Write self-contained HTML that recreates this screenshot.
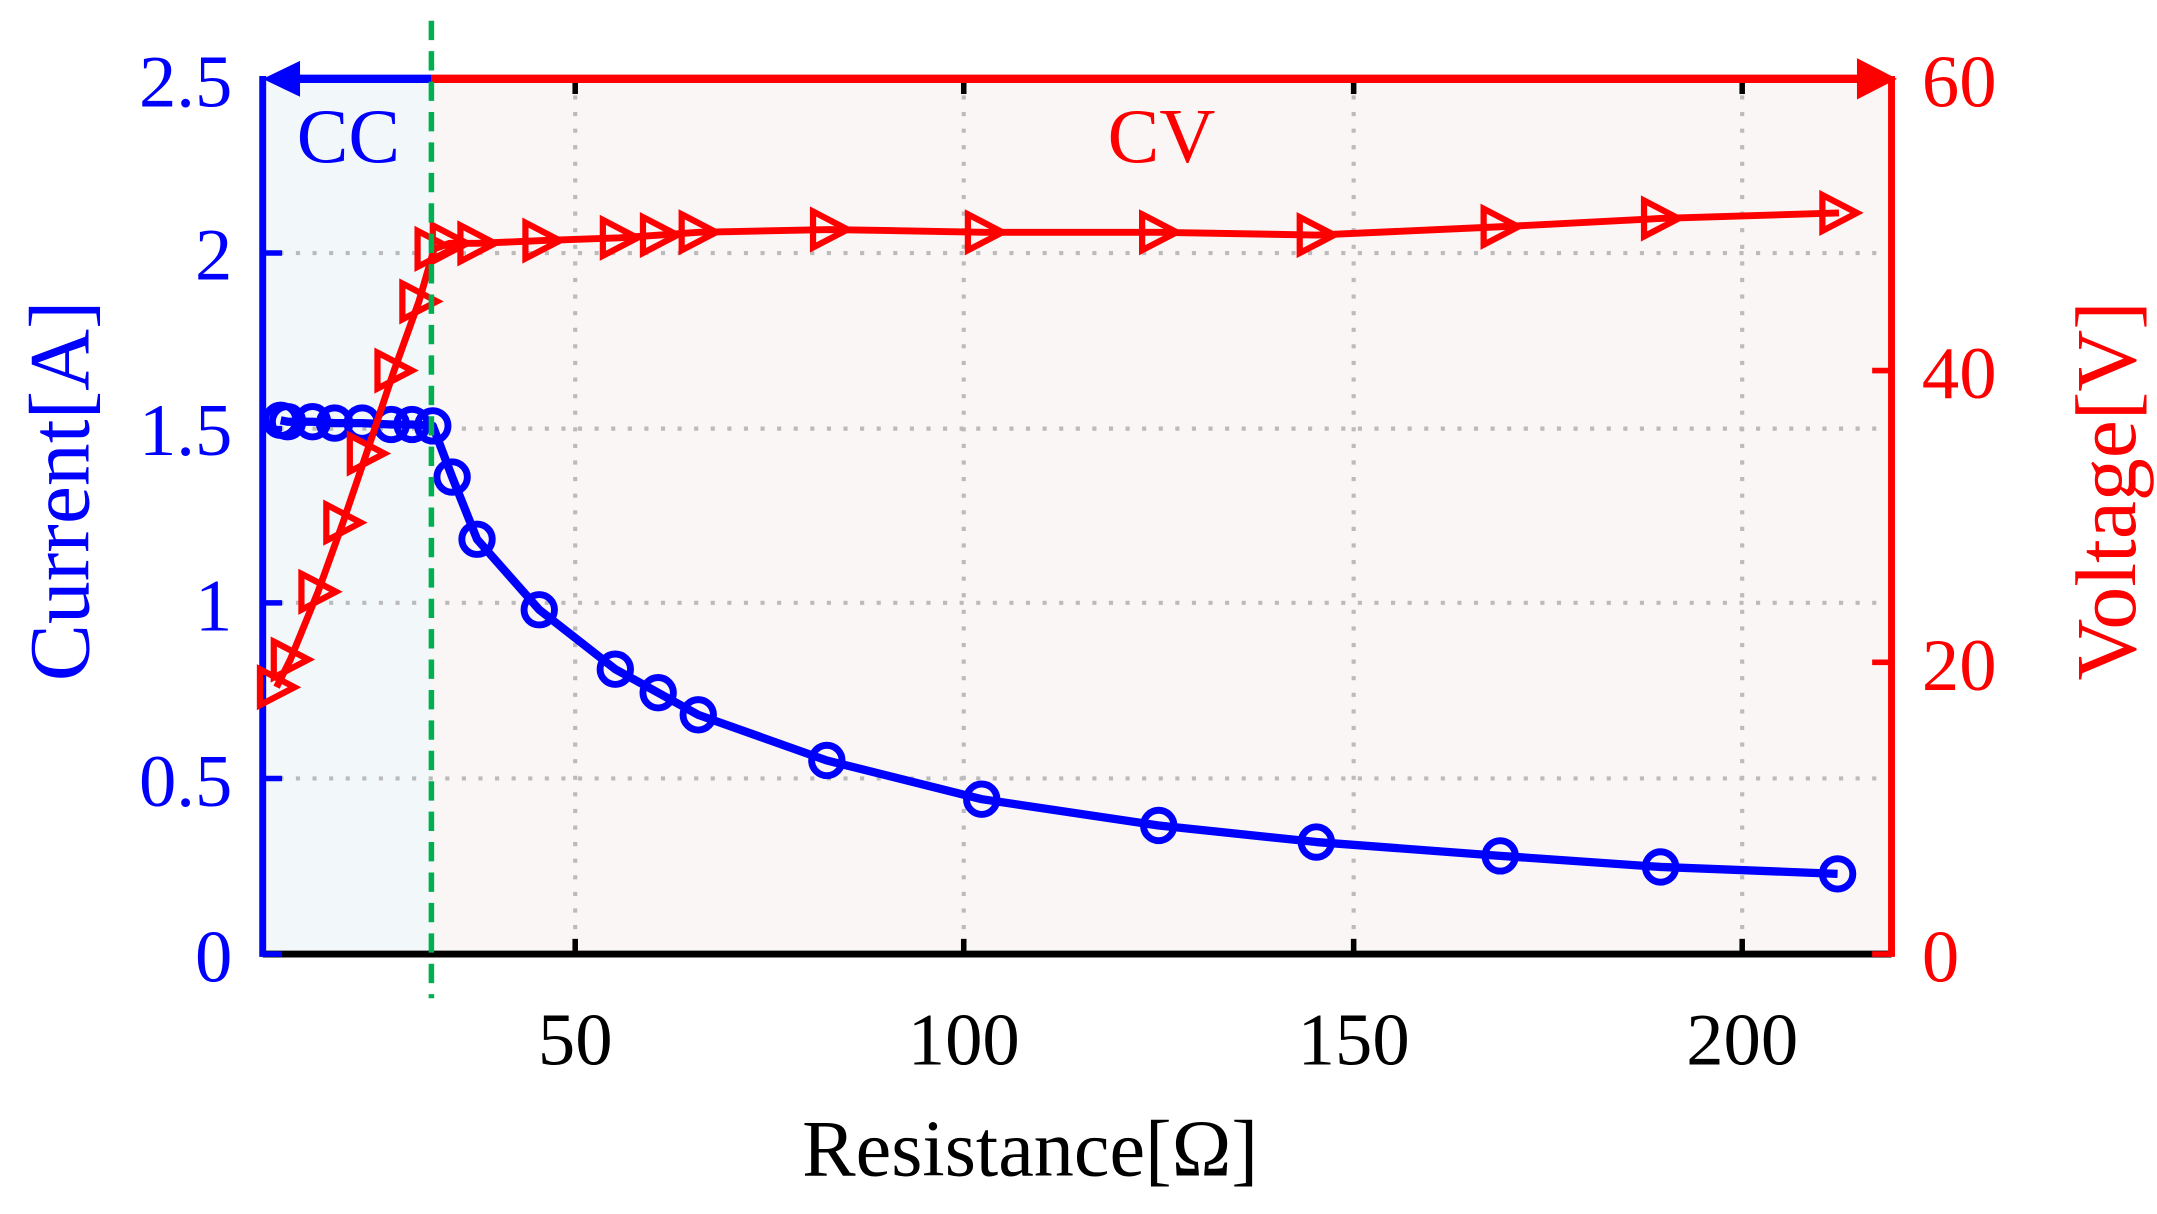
<!DOCTYPE html>
<html><head><meta charset="utf-8"><style>html,body{margin:0;padding:0;background:#fff}svg{display:block}</style></head><body>
<svg width="2157" height="1214" viewBox="0 0 1560 878" xmlns="http://www.w3.org/2000/svg" font-family="Liberation Serif, serif">
<rect x="190" y="57" width="122" height="633" fill="#f2f7fa"/>
<rect x="312" y="57" width="1056" height="633" fill="#fbf6f6"/>
<g stroke="#bbb" stroke-width="3" stroke-dasharray="3,9">
<line x1="416" y1="57" x2="416" y2="690"/><line x1="697" y1="57" x2="697" y2="690"/><line x1="979" y1="57" x2="979" y2="690"/><line x1="1260" y1="57" x2="1260" y2="690"/>
<line x1="190" y1="183" x2="1368" y2="183"/><line x1="190" y1="310" x2="1368" y2="310"/><line x1="190" y1="436" x2="1368" y2="436"/><line x1="190" y1="563" x2="1368" y2="563"/>
</g>
<line x1="190" y1="690" x2="1368" y2="690" stroke="#000" stroke-width="5"/>
<g stroke="#000" stroke-width="4"><line x1="416" y1="690" x2="416" y2="679"/><line x1="697" y1="690" x2="697" y2="679"/><line x1="979" y1="690" x2="979" y2="679"/><line x1="1260" y1="690" x2="1260" y2="679"/><line x1="416" y1="57" x2="416" y2="68"/><line x1="697" y1="57" x2="697" y2="68"/><line x1="979" y1="57" x2="979" y2="68"/><line x1="1260" y1="57" x2="1260" y2="68"/></g>
<line x1="190" y1="55" x2="190" y2="692" stroke="#0000ff" stroke-width="5"/>
<g stroke="#0000ff" stroke-width="4"><line x1="190" y1="183" x2="204" y2="183"/><line x1="190" y1="310" x2="204" y2="310"/><line x1="190" y1="436" x2="204" y2="436"/><line x1="190" y1="563" x2="204" y2="563"/><line x1="190" y1="690" x2="204" y2="690"/></g>
<line x1="1368" y1="55" x2="1368" y2="692" stroke="#ff0000" stroke-width="5"/>
<g stroke="#ff0000" stroke-width="4"><line x1="1354" y1="268" x2="1368" y2="268"/><line x1="1354" y1="479" x2="1368" y2="479"/><line x1="1354" y1="690" x2="1368" y2="690"/></g>
<line x1="200" y1="57" x2="312" y2="57" stroke="#0000ff" stroke-width="6"/>
<polygon points="190,57 217,44 217,70" fill="#0000ff"/>
<line x1="312" y1="57" x2="1350" y2="57" stroke="#ff0000" stroke-width="6"/>
<polygon points="1372,57 1343,42 1343,72" fill="#ff0000"/>
<polyline fill="none" stroke="#0000ff" stroke-width="6" stroke-linejoin="round" points="203,304 208,305 226,305 242,306 262,306 283,307 298,307 313,308 327,345 345,390 390,441 445,484 476,501 505,517 598,550 710,578 838,597 952,609 1085,619 1201,627 1329,632"/>
<g fill="none" stroke="#0000ff" stroke-width="5">
<circle cx="203" cy="304" r="11"/><circle cx="208" cy="305" r="11"/><circle cx="226" cy="305" r="11"/><circle cx="242" cy="306" r="11"/><circle cx="262" cy="306" r="11"/><circle cx="283" cy="307" r="11"/><circle cx="298" cy="307" r="11"/><circle cx="313" cy="308" r="11"/><circle cx="327" cy="345" r="11"/><circle cx="345" cy="390" r="11"/><circle cx="390" cy="441" r="11"/><circle cx="445" cy="484" r="11"/><circle cx="476" cy="501" r="11"/><circle cx="505" cy="517" r="11"/><circle cx="598" cy="550" r="11"/><circle cx="710" cy="578" r="11"/><circle cx="838" cy="597" r="11"/><circle cx="952" cy="609" r="11"/><circle cx="1085" cy="619" r="11"/><circle cx="1201" cy="627" r="11"/><circle cx="1329" cy="632" r="11"/>
</g>
<polyline fill="none" stroke="#ff0000" stroke-width="5" stroke-linejoin="round" points="200,497 210,477 230,428 248,378 265,328 285,268 303,218 314,180 325,176 345,176 392,174 448,172 477,170 505,168 600,166 712,168 838,168 952,170 1085,164 1201,158 1330,154"/>
<g fill="none" stroke="#ff0000" stroke-width="4.5">
<polygon points="188,484 213,497 188,510"/><polygon points="198,464 223,477 198,490"/><polygon points="218,415 243,428 218,441"/><polygon points="236,365 261,378 236,391"/><polygon points="253,315 278,328 253,341"/><polygon points="273,255 298,268 273,281"/><polygon points="291,205 316,218 291,231"/><polygon points="302,167 327,180 302,193"/><polygon points="313,163 338,176 313,189"/><polygon points="333,163 358,176 333,189"/><polygon points="380,161 405,174 380,187"/><polygon points="436,159 461,172 436,185"/><polygon points="465,157 490,170 465,183"/><polygon points="493,155 518,168 493,181"/><polygon points="588,153 613,166 588,179"/><polygon points="700,155 725,168 700,181"/><polygon points="826,155 851,168 826,181"/><polygon points="940,157 965,170 940,183"/><polygon points="1073,151 1098,164 1073,177"/><polygon points="1189,145 1214,158 1189,171"/><polygon points="1318,141 1343,154 1318,167"/>
</g>
<line x1="312" y1="15" x2="312" y2="722" stroke="#00b050" stroke-width="4" stroke-dasharray="14,8"/>
<g fill="#0000ff" font-size="54" text-anchor="end">
<text x="168" y="77">2.5</text><text x="168" y="202">2</text><text x="168" y="329">1.5</text><text x="168" y="456">1</text><text x="168" y="583">0.5</text><text x="168" y="710">0</text>
</g>
<g fill="#ff0000" font-size="54">
<text x="1390" y="77">60</text><text x="1390" y="288">40</text><text x="1390" y="499">20</text><text x="1390" y="710">0</text>
</g>
<g fill="#000" font-size="54" text-anchor="middle">
<text x="416" y="770">50</text><text x="697" y="770">100</text><text x="979" y="770">150</text><text x="1260" y="770">200</text>
<text x="745" y="850" font-size="58">Resistance[Ω]</text>
</g>
<text x="252" y="117" fill="#0000ff" font-size="56" text-anchor="middle">CC</text>
<text x="840" y="117" fill="#ff0000" font-size="56" text-anchor="middle">CV</text>
<text transform="translate(64,355) rotate(-90)" fill="#0000ff" font-size="62" text-anchor="middle">Current[A]</text>
<text transform="translate(1544,355) rotate(-90)" fill="#ff0000" font-size="62" text-anchor="middle">Voltage[V]</text>
</svg>
</body></html>
